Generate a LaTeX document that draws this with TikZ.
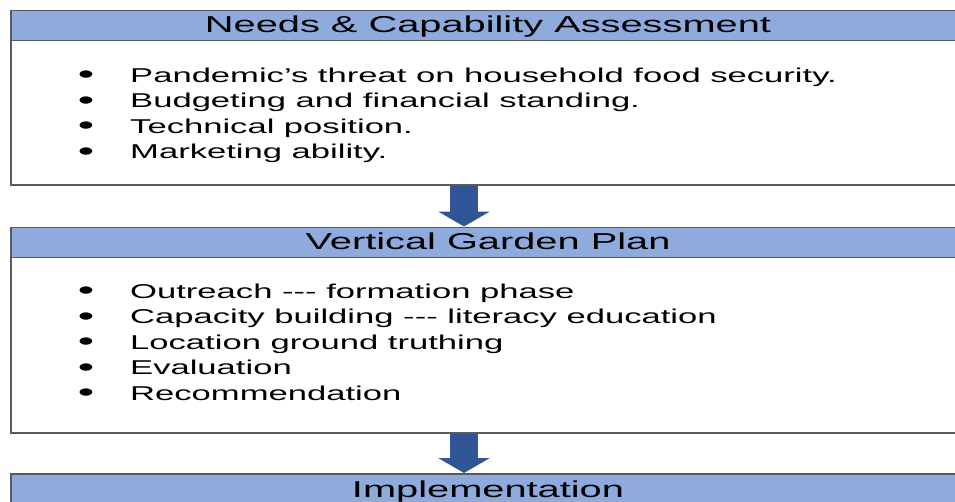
\documentclass[tikz,border=0pt]{standalone}
\usepackage{fontspec}
\setmainfont{Liberation Sans}
\usetikzlibrary{arrows.meta}
\definecolor{headblue}{HTML}{8FAADC}
\definecolor{arrowblue}{HTML}{2F5597}
\definecolor{framegray}{HTML}{5A5A5A}
% wide lettering used throughout the chart
\newcommand{\wtxt}[1]{\scalebox{1.73}[1]{#1}}

\begin{document}
\begin{tikzpicture}[x=1pt,y=-1pt,
  panel/.style={draw=framegray, line width=1.6pt, fill=white, minimum width=956pt,
                inner sep=0pt, anchor=north west},
  headbar/.style={draw=framegray, line width=1.6pt, fill=headblue, minimum width=956pt,
                  minimum height=30pt, inner sep=0pt, anchor=north west},
  title/.style={font=\fontsize{23}{23}\selectfont, anchor=base, inner sep=0pt},
  item/.style={font=\fontsize{20}{20}\selectfont, anchor=base west, inner sep=0pt},
  dot/.style={font=\fontsize{27}{27}\selectfont, anchor=base, inner sep=0pt},
  flow/.style={arrowblue, line width=28pt, -{Triangle[length=15pt,width=51pt]}}]

\useasboundingbox (0,0) rectangle (955,501);
\clip (0,0) rectangle (955,501);

% stage 1
\node[panel, minimum height=174.5pt] (b1) at (10,9.5) {};
\node[headbar] (h1) at (10,9.5) {};
\node[title] (t1) at (488,32) {\wtxt{Needs \& Capability Assessment}};
\foreach \y/\txt [count=\i] in {82/{Pandemic’s threat on household food security.},
                                107.5/{Budgeting and financial standing.},
                                133/{Technical position.},
                                158.5/{Marketing ability.}}{
  \node[dot] (d1-\i) at (86,\y+1.5) {\wtxt{•}};
  \node[item] (l1-\i) at (130,\y) {\wtxt{\txt}};
}

% stage 2
\node[panel, minimum height=205.5pt] (b2) at (10,226.5) {};
\node[headbar] (h2) at (10,226.5) {};
\node[title] (t2) at (488,249) {\wtxt{Vertical Garden Plan}};
\foreach \y/\txt [count=\i] in {298/{Outreach -{}-{}- formation phase},
                                323.5/{Capacity building -{}-{}- literacy education},
                                349/{Location ground truthing},
                                374.5/{Evaluation},
                                400/{Recommendation}}{
  \node[dot] (d2-\i) at (86,\y+1.5) {\wtxt{•}};
  \node[item] (l2-\i) at (130,\y) {\wtxt{\txt}};
}

% stage 3
\node[panel, minimum height=90pt] (b3) at (10,473) {};
\node[headbar] (h3) at (10,473) {};
\node[title] (t3) at (488,497) {\wtxt{Implementation}};

% connecting arrows
\coordinate (ax) at (464,0);
\draw[flow] (b1.south -| ax) -- (b2.north -| ax);
\draw[flow] (b2.south -| ax) -- (b3.north -| ax);
\end{tikzpicture}
\end{document}
